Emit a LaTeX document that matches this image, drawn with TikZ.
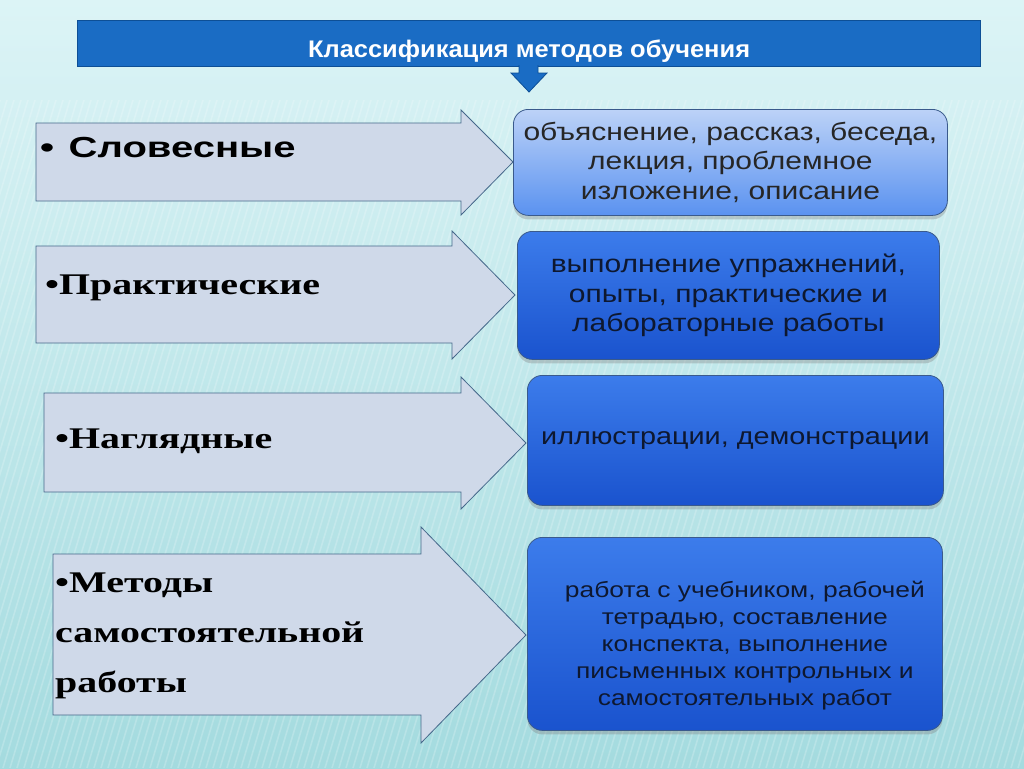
\documentclass[tikz,border=0pt]{standalone}
\usepackage{fontspec}
\setmainfont{Liberation Serif}
\setsansfont{Liberation Sans}
\newfontfamily\titlefont{Liberation Sans}[FakeStretch=1.06]
\newfontfamily\wordfont{Liberation Sans}[FakeStretch=1.38]
\newfontfamily\labelfont{Liberation Serif}[FakeStretch=1.33]
\newfontfamily\boxfont{Liberation Sans}[FakeStretch=1.2]
\usetikzlibrary{shadows}

\definecolor{bgtop}{HTML}{DCF4F6}
\definecolor{bgbottom}{HTML}{A4DBDF}
\definecolor{titleblue}{HTML}{1A6CC4}
\definecolor{titleline}{HTML}{0D4F96}
\definecolor{arrowfill}{HTML}{CFD9E9}
\definecolor{arrowline}{HTML}{45688A}
\definecolor{boxline}{HTML}{3A5A8C}
\definecolor{boxtext}{HTML}{0E1830}
\definecolor{palespot}{HTML}{BCD2F7}
\definecolor{palebase}{HTML}{5A92F0}
\definecolor{deeptop}{HTML}{3C7CEB}
\definecolor{deepmid}{HTML}{2164E0}
\definecolor{deepbase}{HTML}{1A53CE}

\tikzset{
	methodarrow/.style={draw=arrowline,fill=arrowfill,line width=0.8pt},
	methodlabel/.style={anchor=west,inner sep=0,text=black,
		font=\labelfont\bfseries\fontsize{30}{50}\selectfont},
	infobox/.style={anchor=north west,rounded corners=15pt,draw=boxline,
		line width=0.8pt,inner sep=0,align=center,text=boxtext,
		drop shadow={opacity=0.35,shadow xshift=0pt,shadow yshift=-4pt},
		font=\boxfont\fontsize{25}{29.5}\selectfont},
	deepbox/.style={infobox,top color=deeptop,middle color=deepmid,bottom color=deepbase}
}

\begin{document}
\begin{tikzpicture}[x=1pt,y=-1pt]
	\useasboundingbox (0,0) rectangle (1024,768);
	% background
	\fill[top color=bgtop,bottom color=bgbottom] (0,0) rectangle (1024,768);
	\begin{scope}
		\clip (0,100) rectangle (1024,768);
		\foreach \s in {0,7,...,1250}
			\draw[white,opacity=0.2,line width=1.6pt] (\s-200,768) -- (\s,100);
	\end{scope}

	% title
	\node[draw=titleline,fill=titleblue,line width=1.2pt,minimum width=903pt,
		minimum height=46pt,anchor=north west,text height=28pt,text depth=0pt,
		font=\titlefont\bfseries\fontsize{24}{28}\selectfont,text=white]
		(title) at (77,20) {Классификация методов обучения};
	\draw[draw=titleline,fill=titleblue,line width=0.8pt]
		(519,65) -- (519,73) -- (511,73) -- (529,92) -- (547,73) -- (538,73) -- (538,65);

	% arrows
	\draw[methodarrow] (36,123) -- (461,123) -- (461,110) -- (513,162)
		-- (461,215) -- (461,201) -- (36,201) -- cycle;
	\draw[methodarrow] (36,246) -- (452,246) -- (452,231) -- (515,295)
		-- (452,359) -- (452,343) -- (36,343) -- cycle;
	\draw[methodarrow] (44,393) -- (461,393) -- (461,377) -- (526,443)
		-- (461,509) -- (461,492) -- (44,492) -- cycle;
	\draw[methodarrow] (53,554) -- (421,554) -- (421,527) -- (526,635)
		-- (421,743) -- (421,715) -- (53,715) -- cycle;

	\node[methodlabel,font=\wordfont\bfseries\fontsize{29}{34}\selectfont]
		(verbal) at (40,148) {•\hspace{0.5em}Словесные};
	\node[methodlabel] (practical) at (45,288) {•Практические};
	\node[methodlabel] (visual) at (55,441) {•Наглядные};
	\node[methodlabel,align=left,anchor=north west] (selfwork) at (55,573)
		{•Методы\\самостоятельной\\работы};

	% boxes
	\node[infobox,top color=palespot,bottom color=palebase,text=black!85,
		minimum width=434pt,minimum height=106pt] (b1) at (513,109)
		{объяснение, рассказ, беседа,\\лекция, проблемное\\изложение, описание};
	\node[deepbox,minimum width=422pt,minimum height=128pt] (b2) at (517,231)
		{выполнение упражнений,\\опыты, практические и\\лабораторные работы};
	\node[deepbox,minimum width=416pt,minimum height=130pt,
		font=\boxfont\fontsize{24}{28}\selectfont] (b3) at (527,375)
		{иллюстрации, демонстрации};
	\node[deepbox,minimum width=415pt,minimum height=193pt] (b4) at (527,537) {};
	\node[align=center,text=boxtext,inner sep=0,font=\boxfont\fontsize{22}{27}\selectfont]
		(b4text) at ([xshift=10pt,yshift=-12pt]b4.center)
		{работа с учебником, рабочей\\тетрадью, составление\\конспекта, выполнение\\письменных контрольных и\\самостоятельных работ};
\end{tikzpicture}
\end{document}
